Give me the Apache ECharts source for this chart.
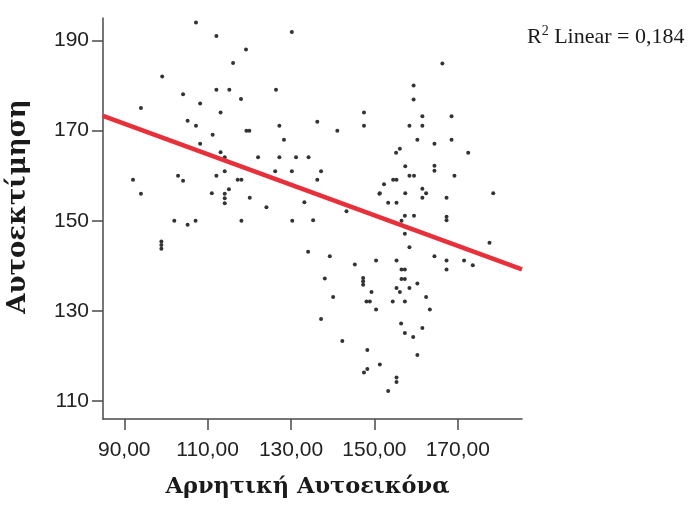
<!DOCTYPE html>
<html>
<head>
<meta charset="utf-8">
<script src="https://cdn.jsdelivr.net/npm/echarts@6/dist/echarts.min.js"></script>
<style>html,body{margin:0;padding:0;background:#fff}#c{width:694px;height:506px}</style>
</head>
<body>
<div id="c"></div>
<script>
// Αρνητική Αυτοεικόνα (x) values
const xValues = [
107.2,112.1,119.2,116.1,99.1,104.1,112.1,115.2,118.0,108.2,94.0,113.1,105.2,107.2,119.3,120.0,111.2,108.2,113.1,114.1,
114.1,112.1,117.2,118.1,92.1,102.9,104.1,94.0,111.0,115.1,114.1,114.1,114.1,120.1,124.1,133.2,130.2,126.2,122.1,127.2,
131.2,134.2,128.3,127.2,126.4,130.2,136.3,141.1,147.5,147.5,137.2,136.3,143.3,151.2,102.0,105.2,107.1,118.1,130.3,98.9,
98.9,98.9,134.1,135.3,166.3,159.4,159.4,161.5,168.5,158.4,161.5,160.3,164.4,168.5,156.1,155.2,172.5,157.4,164.4,164.4,
158.4,159.5,169.2,154.5,155.3,152.3,151.3,157.4,161.5,162.4,161.5,167.3,178.5,153.3,155.3,157.3,159.5,167.3,167.3,156.5,
157.3,158.4,177.6,139.3,145.3,150.4,155.3,164.4,167.3,167.3,171.5,173.6,156.5,157.3,138.1,147.3,147.3,147.3,156.5,157.3,
160.3,155.3,156.1,158.4,149.3,140.1,162.4,148.1,148.9,154.4,157.3,150.4,163.3,137.2,156.4,161.5,157.3,159.3,142.3,160.3,
148.3,151.3,148.3,147.5,155.3,155.3,153.3
];
// Αυτοεκτίμηση (y) values
const yValues = [
194.0,191.0,188.0,185.0,182.0,178.1,179.1,179.1,177.0,176.0,175.0,174.0,172.2,171.1,170.0,170.0,169.1,167.1,165.2,164.1,
161.0,160.0,159.1,159.1,159.1,160.0,158.9,156.0,156.1,157.0,156.0,155.0,153.9,155.1,153.0,154.1,161.0,161.0,164.1,164.1,
164.1,164.1,168.0,171.1,179.1,191.9,172.0,170.0,174.0,171.1,161.0,159.1,152.1,156.0,150.0,149.1,150.0,150.0,150.0,145.4,
144.6,143.8,143.1,150.1,184.9,180.0,176.9,173.2,173.2,171.1,171.1,168.0,167.1,168.0,166.0,165.1,165.1,162.1,162.2,161.1,
160.0,160.0,160.0,159.1,159.1,158.1,156.1,156.1,157.1,156.1,155.1,155.1,156.1,154.0,154.0,151.1,151.1,150.9,150.1,150.0,
147.1,144.1,145.1,142.1,140.3,141.2,141.2,142.1,141.2,139.2,141.2,140.1,139.2,139.2,137.2,137.3,136.6,135.8,137.1,137.1,
136.1,135.1,134.2,135.1,134.2,133.1,133.1,132.1,132.1,132.1,132.1,130.3,130.3,128.2,127.2,126.2,125.1,124.2,123.3,120.2,
121.3,118.1,117.1,116.3,115.2,114.2,112.2
];
// Fit line end points
const fitX = [84.9, 185.4];
const fitY = [173.3, 139.2];
const xTicks = [90, 110, 130, 150, 170];
const yTicks = [110, 130, 150, 170, 190];
const xTitle = 'Αρνητική Αυτοεικόνα';
const yTitle = 'Αυτοεκτίμηση';
const r2Text = '0,184';

const points = xValues.map((x, i) => [x, yValues[i]]);
const fit = fitX.map((x, i) => [x, fitY[i]]);

const chart = echarts.init(document.getElementById('c'), null, {renderer: 'canvas'});
const axisCommon = {
  axisLine: {show: true, lineStyle: {color: '#4a4a4a', width: 1.5}},
  splitLine: {show: false}
};
chart.setOption({
  animation: false,
  backgroundColor: '#fff',
  grid: {left: 103, right: 172, top: 18, bottom: 87, containLabel: false, outerBoundsMode: 'none'},
  xAxis: Object.assign({}, axisCommon, {
    type: 'value', min: 84.9, max: 185.4,
    name: xTitle, nameLocation: 'middle', nameGap: 57,
    nameTextStyle: {fontFamily: 'DejaVu Serif', fontWeight: 'bold', fontSize: 22.5, color: '#1a1a1a', padding: [0, 10, 0, 0]},
    axisTick: {show: true, length: 11, customValues: xTicks, lineStyle: {color: '#4a4a4a', width: 1.5}},
    axisLabel: {customValues: xTicks, margin: 21, fontFamily: 'Liberation Sans', fontSize: 21, color: '#222',
      formatter: v => v.toFixed(2).replace('.', ',')}
  }),
  yAxis: Object.assign({}, axisCommon, {
    type: 'value', min: 106, max: 195,
    name: yTitle, nameLocation: 'middle', nameGap: 72,
    nameTextStyle: {fontFamily: 'DejaVu Serif', fontWeight: 'bold', fontSize: 26, color: '#1a1a1a', padding: [0, 0, 0, 24]},
    axisTick: {show: true, length: 11, customValues: yTicks, lineStyle: {color: '#4a4a4a', width: 1.5}},
    axisLabel: {customValues: yTicks, margin: 14, fontFamily: 'Liberation Sans', fontSize: 21, color: '#222'}
  }),
  series: [
    {type: 'scatter', data: points, symbol: 'circle', symbolSize: 4,
      itemStyle: {color: '#333', opacity: 1}},
    {type: 'line', data: fit, symbol: 'none', lineStyle: {color: '#e8303a', width: 4.5}, z: 3}
  ],
  graphic: [{
    type: 'text', left: 527, top: 24,
    style: {
      text: '{a|R}{s|2}{a| Linear = ' + r2Text + '}',
      rich: {
        a: {fontFamily: 'Liberation Serif', fontSize: 22, fill: '#1a1a1a', verticalAlign: 'bottom'},
        s: {fontFamily: 'Liberation Serif', fontSize: 14, fill: '#1a1a1a', verticalAlign: 'top', padding: [0, 0, 10, 0]}
      }
    }
  }]
});
</script>
</body>
</html>
